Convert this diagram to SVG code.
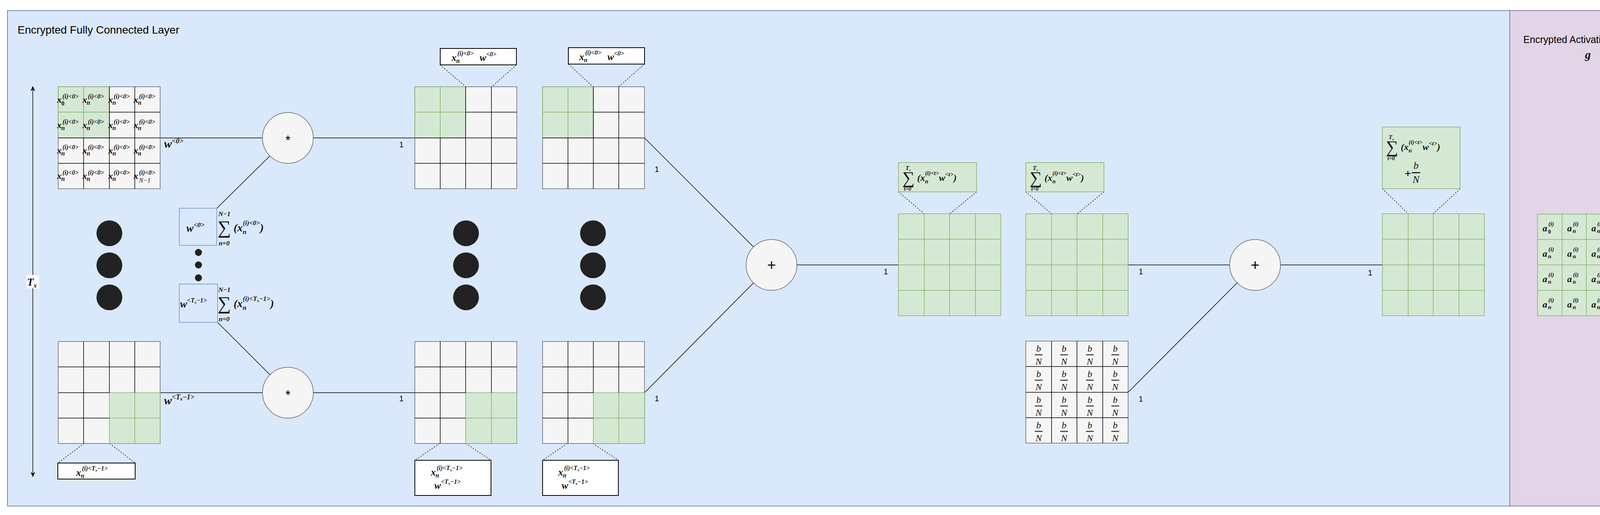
<svg xmlns="http://www.w3.org/2000/svg" width="4303" height="1318" viewBox="0 0 4303 1318">
<style>
.s{font-family:"Liberation Sans",Arial,sans-serif;fill:#000}
.m{font-family:"Liberation Serif","Times New Roman",serif;font-style:italic;fill:#111}
.b{font-weight:bold}
.g{fill:#f5f5f5;stroke:#666;stroke-width:1.5}
.gr{fill:#d5e8d4;stroke:#82b366;stroke-width:1.5}
.ln{stroke:#000;stroke-width:1.5;fill:none}
.dt{stroke:#000;stroke-width:1.5;stroke-dasharray:3 4;fill:none}
.cb{fill:#fff;stroke:#000;stroke-width:2}
.op{fill:#f5f5f5;stroke:#666;stroke-width:1.5}
.dot{fill:#222}
</style>
<defs>
<marker id="ah" markerWidth="10" markerHeight="10" refX="5" refY="5" orient="auto"><path d="M0,1 L9,5 L0,9 L3,5 Z" fill="#000"/></marker>
</defs>
<g id="panel-fc"><rect x="19" y="27" width="3846" height="1268" fill="#dae8fc" stroke="#6c8ebf" stroke-width="2"/>
<text class="s" x="45" y="86" font-size="28">Encrypted Fully Connected Layer</text></g>
<g id="panel-act"><rect x="3865" y="27" width="400" height="1268" fill="#e1d5e7" stroke="#9673a6" stroke-width="2"/>
<text class="s" x="4065" y="110" font-size="25" text-anchor="middle">Encrypted Activation-Function</text>
<text class="m b" x="4065" y="150" font-size="30" text-anchor="middle">g</text></g>

<g id="connectors">
<line class="ln" x1="84" y1="722" x2="84" y2="226" marker-end="url(#ah)"/>
<line class="ln" x1="84" y1="722" x2="84" y2="1215" marker-end="url(#ah)"/>
<line class="ln" x1="410" y1="353" x2="672" y2="353"/>
<line class="ln" x1="802" y1="353" x2="1062" y2="353"/>
<line class="ln" x1="410" y1="1005" x2="672" y2="1005"/>
<line class="ln" x1="802" y1="1005" x2="1062" y2="1005"/>
<line class="ln" x1="555" y1="533" x2="691" y2="399"/>
<line class="ln" x1="557" y1="825" x2="691" y2="959"/>
<line class="ln" x1="1650" y1="353" x2="1929" y2="632"/>
<line class="ln" x1="1650" y1="1005" x2="1929" y2="724"/>
<line class="ln" x1="2040" y1="678" x2="2300" y2="678"/>
<line class="ln" x1="2888" y1="678" x2="3148" y2="678"/>
<line class="ln" x1="3278" y1="678" x2="3539" y2="678"/>
<line class="ln" x1="2888" y1="1004" x2="3167" y2="724"/>
<line class="dt" x1="215" y1="1135" x2="148" y2="1185"/><line class="dt" x1="281" y1="1135" x2="346" y2="1185"/>
<line class="dt" x1="1127" y1="166" x2="1192" y2="222"/><line class="dt" x1="1322" y1="166" x2="1259" y2="222"/>
<line class="dt" x1="1455" y1="164" x2="1518" y2="222"/><line class="dt" x1="1650" y1="164" x2="1584" y2="222"/>
<line class="dt" x1="1125" y1="1135" x2="1062" y2="1178"/><line class="dt" x1="1193" y1="1135" x2="1257" y2="1178"/>
<line class="dt" x1="1452" y1="1135" x2="1389" y2="1178"/><line class="dt" x1="1518" y1="1135" x2="1583" y2="1178"/>
<line class="dt" x1="2300" y1="491" x2="2366" y2="547"/><line class="dt" x1="2500" y1="491" x2="2432" y2="547"/>
<line class="dt" x1="2626" y1="491" x2="2692" y2="547"/><line class="dt" x1="2826" y1="491" x2="2758" y2="547"/>
<line class="dt" x1="3539" y1="483" x2="3605" y2="547"/><line class="dt" x1="3738" y1="483" x2="3669" y2="547"/>
<g class="s" font-size="20">
<text x="1022" y="377">1</text><text x="1676" y="440">1</text>
<text x="1022" y="1027">1</text><text x="1676" y="1027">1</text>
<text x="2262" y="702">1</text><text x="2915" y="702">1</text><text x="3502" y="705">1</text><text x="2915" y="1028">1</text>
</g>
<g class="m b" font-size="30">
<text x="420" y="378">w<tspan font-size="18" dy="-11">&lt;0&gt;</tspan></text>
<text x="420" y="1035">w<tspan font-size="18" dy="-13">&lt;T</tspan><tspan font-size="12" dy="3">x</tspan><tspan font-size="18" dy="-3">−1&gt;</tspan></text>
</g>
<rect x="68" y="704" width="32" height="34" fill="#fff"/>
<text class="m b" x="69" y="731" font-size="28">T<tspan font-size="16" dy="5">x</tspan></text>
</g>

<g id="op-mul1"><circle class="op" cx="737" cy="353" r="65"/><text class="s" x="737" y="370" font-size="34" text-anchor="middle">*</text></g>
<g id="op-mul2"><circle class="op" cx="737" cy="1005" r="65"/><text class="s" x="737" y="1022" font-size="34" text-anchor="middle">*</text></g>
<g id="op-add1"><circle class="op" cx="1975" cy="678" r="65"/><text class="s" x="1975" y="691" font-size="38" text-anchor="middle">+</text></g>
<g id="op-add2"><circle class="op" cx="3213" cy="678" r="65"/><text class="s" x="3213" y="691" font-size="38" text-anchor="middle">+</text></g>

<g id="dots">
<ellipse class="dot" cx="280" cy="597" rx="33" ry="33"/><ellipse class="dot" cx="280" cy="679" rx="33" ry="33"/><ellipse class="dot" cx="280" cy="761" rx="33" ry="33"/>
<ellipse class="dot" cx="1193" cy="597" rx="33" ry="33"/><ellipse class="dot" cx="1193" cy="679" rx="33" ry="33"/><ellipse class="dot" cx="1193" cy="761" rx="33" ry="33"/>
<ellipse class="dot" cx="1518" cy="597" rx="33" ry="33"/><ellipse class="dot" cx="1518" cy="679" rx="33" ry="33"/><ellipse class="dot" cx="1518" cy="761" rx="33" ry="33"/>
<circle class="dot" cx="508" cy="646" r="9"/><circle class="dot" cx="508" cy="678" r="9"/><circle class="dot" cx="508" cy="711" r="9"/>
</g>

<g id="w0-box"><rect x="459" y="533" width="96" height="95" fill="#dae8fc" stroke="#6c8ebf" stroke-width="1.5"/>
<text class="m b" x="477" y="593" font-size="28">w<tspan font-size="17" dy="-12">&lt;0&gt;</tspan></text>
<text class="m b" x="559" y="553" font-size="17">N−1</text><text class="m" x="557" y="598" font-size="48" font-style="normal">∑</text><text class="m b" x="560" y="628" font-size="17">n=0</text>
<text class="m b" x="598" y="592" font-size="28">(x<tspan font-size="17" dy="7">n</tspan><tspan font-size="17" dx="-9" dy="-23">(i)&lt;0&gt;</tspan><tspan dy="16">)</tspan></text>
</g>
<g id="wT-box"><rect x="459" y="727" width="98" height="98" fill="#dae8fc" stroke="#6c8ebf" stroke-width="1.5"/>
<text class="m b" x="461" y="787" font-size="27">w<tspan font-size="16" dy="-13">&lt;T</tspan><tspan font-size="10" dy="3">x</tspan><tspan font-size="16" dy="-3">−1&gt;</tspan></text>
<text class="m b" x="559" y="747" font-size="17">N−1</text><text class="m" x="557" y="792" font-size="48" font-style="normal">∑</text><text class="m b" x="560" y="822" font-size="17">n=0</text>
<text class="m b" x="598" y="786" font-size="28">(x<tspan font-size="17" dy="7">n</tspan><tspan font-size="17" dx="-9" dy="-23">(i)&lt;T</tspan><tspan font-size="11" dy="3">x</tspan><tspan font-size="17" dy="-3">−1&gt;</tspan><tspan dy="16">)</tspan></text>
</g>

<g id="x0-grid">
<rect class="g" x="149" y="222" width="261" height="261"/>
<rect class="gr" x="149" y="222" width="65" height="65"/><rect class="gr" x="214" y="222" width="66" height="65"/>
<rect class="gr" x="149" y="287" width="65" height="66"/><rect class="gr" x="214" y="287" width="66" height="66"/>
<path class="ln" stroke="#666" d="M280,222V483M345,222V483M149,353H410M149,418H410M214,353V483M280,287H410"/>
<g class="m b" font-size="24" fill="#222">
<text x="146" y="263">x<tspan font-size="16" x="157" y="270" font-style="normal">0</tspan><tspan font-size="16" x="160" y="252">(i)&lt;0&gt;</tspan></text>
<text x="211" y="263">x<tspan font-size="16" x="222" y="268">n</tspan><tspan font-size="16" x="225" y="252">(i)&lt;0&gt;</tspan></text>
<text x="277" y="263">x<tspan font-size="16" x="288" y="268">n</tspan><tspan font-size="16" x="291" y="252">(i)&lt;0&gt;</tspan></text>
<text x="342" y="263">x<tspan font-size="16" x="353" y="268">n</tspan><tspan font-size="16" x="356" y="252">(i)&lt;0&gt;</tspan></text>
<text x="146" y="328">x<tspan font-size="16" x="157" y="333">n</tspan><tspan font-size="16" x="160" y="317">(i)&lt;0&gt;</tspan></text>
<text x="211" y="328">x<tspan font-size="16" x="222" y="333">n</tspan><tspan font-size="16" x="225" y="317">(i)&lt;0&gt;</tspan></text>
<text x="277" y="328">x<tspan font-size="16" x="288" y="333">n</tspan><tspan font-size="16" x="291" y="317">(i)&lt;0&gt;</tspan></text>
<text x="342" y="328">x<tspan font-size="16" x="353" y="333">n</tspan><tspan font-size="16" x="356" y="317">(i)&lt;0&gt;</tspan></text>
<text x="146" y="393">x<tspan font-size="16" x="157" y="398">n</tspan><tspan font-size="16" x="160" y="382">(i)&lt;0&gt;</tspan></text>
<text x="211" y="393">x<tspan font-size="16" x="222" y="398">n</tspan><tspan font-size="16" x="225" y="382">(i)&lt;0&gt;</tspan></text>
<text x="277" y="393">x<tspan font-size="16" x="288" y="398">n</tspan><tspan font-size="16" x="291" y="382">(i)&lt;0&gt;</tspan></text>
<text x="342" y="393">x<tspan font-size="16" x="353" y="398">n</tspan><tspan font-size="16" x="356" y="382">(i)&lt;0&gt;</tspan></text>
<text x="146" y="458">x<tspan font-size="16" x="157" y="463">n</tspan><tspan font-size="16" x="160" y="447">(i)&lt;0&gt;</tspan></text>
<text x="211" y="458">x<tspan font-size="16" x="222" y="463">n</tspan><tspan font-size="16" x="225" y="447">(i)&lt;0&gt;</tspan></text>
<text x="277" y="458">x<tspan font-size="16" x="288" y="463">n</tspan><tspan font-size="16" x="291" y="447">(i)&lt;0&gt;</tspan></text>
<text x="342" y="458">x<tspan font-size="16" x="356" y="467" font-weight="normal">N−1</tspan><tspan font-size="16" x="356" y="447">(i)&lt;0&gt;</tspan></text>
</g></g>

<g id="xT-grid">
<rect class="g" x="149" y="874" width="261" height="261"/>
<rect class="gr" x="280" y="1005" width="130" height="130"/>
<path class="ln" stroke="#666" d="M214,874V1135M280,874V1005M345,874V1005M149,939H410M149,1005H280M149,1070H280"/>
<path fill="none" stroke="#82b366" stroke-width="1.5" d="M345,1005V1135M280,1070H410"/>
</g>
<g id="xT-callout"><rect class="cb" x="148" y="1185" width="198" height="41"/>
<text class="m b" x="195" y="1218" font-size="25">x<tspan font-size="16" x="207" y="1223">n</tspan><tspan font-size="16" x="210" y="1204">(i)&lt;T</tspan><tspan font-size="10" dy="3">x</tspan><tspan font-size="16" dy="-3">−1&gt;</tspan></text></g>

<g id="prodA-grid">
<rect class="g" x="1062" y="222" width="261" height="261"/>
<rect class="gr" x="1062" y="222" width="130" height="131"/>
<path fill="none" stroke="#82b366" stroke-width="1.5" d="M1127,222V353M1062,287H1192"/>
<path class="ln" stroke="#666" d="M1127,353V483M1192,222V483M1258,222V483M1192,287H1323M1062,353H1323M1062,418H1323"/>
</g>
<g id="prodA-callout"><rect class="cb" x="1127" y="124" width="195" height="42"/>
<text class="m b" x="1156" y="156" font-size="25">x<tspan font-size="16" x="1168" y="161">n</tspan><tspan font-size="16" x="1171" y="142">(i)&lt;0&gt;</tspan><tspan x="1228" y="156">w</tspan><tspan font-size="16" dy="-12">&lt;0&gt;</tspan></text></g>
<g id="prodB-grid">
<rect class="g" x="1389" y="222" width="261" height="261"/>
<rect class="gr" x="1389" y="222" width="130" height="131"/>
<path fill="none" stroke="#82b366" stroke-width="1.5" d="M1454,222V353M1389,287H1519"/>
<path class="ln" stroke="#666" d="M1454,353V483M1519,222V483M1584,222V483M1519,287H1650M1389,353H1650M1389,418H1650"/>
</g>
<g id="prodB-callout"><rect class="cb" x="1455" y="122" width="195" height="42"/>
<text class="m b" x="1483" y="154" font-size="25">x<tspan font-size="16" x="1495" y="159">n</tspan><tspan font-size="16" x="1498" y="140">(i)&lt;0&gt;</tspan><tspan x="1555" y="154">w</tspan><tspan font-size="16" dy="-12">&lt;0&gt;</tspan></text></g>

<g id="prodC-grid">
<rect class="g" x="1062" y="874" width="261" height="261"/>
<rect class="gr" x="1192" y="1005" width="131" height="130"/>
<path class="ln" stroke="#666" d="M1127,874V1135M1192,874V1005M1258,874V1005M1062,939H1323M1062,1005H1192M1062,1070H1192"/>
<path fill="none" stroke="#82b366" stroke-width="1.5" d="M1258,1005V1135M1192,1070H1323"/>
</g>
<g id="prodC-callout"><rect class="cb" x="1062" y="1178" width="195" height="90"/>
<text class="m b" x="1103" y="1217" font-size="25">x<tspan font-size="16" x="1115" y="1222">n</tspan><tspan font-size="16" x="1118" y="1203">(i)&lt;T</tspan><tspan font-size="10" dy="3">x</tspan><tspan font-size="16" dy="-3">−1&gt;</tspan></text>
<text class="m b" x="1112" y="1251" font-size="25">w<tspan font-size="16" dy="-13">&lt;T</tspan><tspan font-size="10" dy="3">x</tspan><tspan font-size="16" dy="-3">−1&gt;</tspan></text></g>
<g id="prodD-grid">
<rect class="g" x="1389" y="874" width="261" height="261"/>
<rect class="gr" x="1519" y="1005" width="131" height="130"/>
<path class="ln" stroke="#666" d="M1454,874V1135M1519,874V1005M1584,874V1005M1389,939H1650M1389,1005H1519M1389,1070H1519"/>
<path fill="none" stroke="#82b366" stroke-width="1.5" d="M1584,1005V1135M1519,1070H1650"/>
</g>
<g id="prodD-callout"><rect class="cb" x="1389" y="1178" width="194" height="90"/>
<text class="m b" x="1429" y="1217" font-size="25">x<tspan font-size="16" x="1441" y="1222">n</tspan><tspan font-size="16" x="1444" y="1203">(i)&lt;T</tspan><tspan font-size="10" dy="3">x</tspan><tspan font-size="16" dy="-3">−1&gt;</tspan></text>
<text class="m b" x="1438" y="1251" font-size="25">w<tspan font-size="16" dy="-13">&lt;T</tspan><tspan font-size="10" dy="3">x</tspan><tspan font-size="16" dy="-3">−1&gt;</tspan></text></g>

<g id="sumE-grid">
<rect class="gr" x="2300" y="547" width="262" height="261"/>
<path fill="none" stroke="#82b366" stroke-width="1.5" d="M2366,547V808M2431,547V808M2497,547V808M2300,612H2562M2300,678H2562M2300,743H2562"/>
</g>
<g id="sumE-callout"><rect class="gr" x="2300" y="416" width="200" height="75"/>
<text class="m b" x="2318" y="435" font-size="15">T<tspan font-size="9" dy="3">x</tspan></text>
<text class="m" x="2310" y="470" font-size="44" font-style="normal">∑</text>
<text class="m b" x="2314" y="488" font-size="14">t=0</text>
<text class="m b" x="2348" y="463" font-size="24">(x<tspan font-size="15" dy="6">n</tspan><tspan font-size="15" dx="-8" dy="-21">(i)&lt;t&gt;</tspan><tspan dy="15">w</tspan><tspan font-size="15" dy="-12">&lt;t&gt;</tspan><tspan dy="12">)</tspan></text></g>
<g id="sumF-grid">
<rect class="gr" x="2626" y="547" width="262" height="261"/>
<path fill="none" stroke="#82b366" stroke-width="1.5" d="M2692,547V808M2757,547V808M2823,547V808M2626,612H2888M2626,678H2888M2626,743H2888"/>
</g>
<g id="sumF-callout"><rect class="gr" x="2626" y="416" width="200" height="75"/>
<text class="m b" x="2644" y="435" font-size="15">T<tspan font-size="9" dy="3">x</tspan></text>
<text class="m" x="2636" y="470" font-size="44" font-style="normal">∑</text>
<text class="m b" x="2640" y="488" font-size="14">t=0</text>
<text class="m b" x="2674" y="463" font-size="24">(x<tspan font-size="15" dy="6">n</tspan><tspan font-size="15" dx="-8" dy="-21">(i)&lt;t&gt;</tspan><tspan dy="15">w</tspan><tspan font-size="15" dy="-12">&lt;t&gt;</tspan><tspan dy="12">)</tspan></text></g>

<g id="bias-grid">
<rect class="g" x="2626" y="873" width="262" height="261"/>
<path class="ln" stroke="#666" d="M2692,873V1134M2757,873V1134M2823,873V1134M2626,938H2888M2626,1004H2888M2626,1069H2888"/>
<g class="m" font-size="24" text-anchor="middle" fill="#333">
<text x="2659" y="900">b</text><text x="2659" y="933">N</text><text x="2724" y="900">b</text><text x="2724" y="933">N</text><text x="2790" y="900">b</text><text x="2790" y="933">N</text><text x="2855" y="900">b</text><text x="2855" y="933">N</text>
<text x="2659" y="965">b</text><text x="2659" y="998">N</text><text x="2724" y="965">b</text><text x="2724" y="998">N</text><text x="2790" y="965">b</text><text x="2790" y="998">N</text><text x="2855" y="965">b</text><text x="2855" y="998">N</text>
<text x="2659" y="1031">b</text><text x="2659" y="1064">N</text><text x="2724" y="1031">b</text><text x="2724" y="1064">N</text><text x="2790" y="1031">b</text><text x="2790" y="1064">N</text><text x="2855" y="1031">b</text><text x="2855" y="1064">N</text>
<text x="2659" y="1096">b</text><text x="2659" y="1129">N</text><text x="2724" y="1096">b</text><text x="2724" y="1129">N</text><text x="2790" y="1096">b</text><text x="2790" y="1129">N</text><text x="2855" y="1096">b</text><text x="2855" y="1129">N</text>
</g>
<path stroke="#333" stroke-width="2.5" d="M2649,908H2669M2714,908H2734M2780,908H2800M2845,908H2865M2649,973H2669M2714,973H2734M2780,973H2800M2845,973H2865M2649,1039H2669M2714,1039H2734M2780,1039H2800M2845,1039H2865M2649,1104H2669M2714,1104H2734M2780,1104H2800M2845,1104H2865"/>
</g>

<g id="sumG-grid">
<rect class="gr" x="3539" y="547" width="261" height="261"/>
<path fill="none" stroke="#82b366" stroke-width="1.5" d="M3605,547V808M3669,547V808M3735,547V808M3539,612H3800M3539,678H3800M3539,743H3800"/>
</g>
<g id="sumG-callout"><rect class="gr" x="3539" y="325" width="199" height="158"/>
<text class="m b" x="3555" y="356" font-size="15">T<tspan font-size="9" dy="3">x</tspan></text>
<text class="m" x="3548" y="391" font-size="44" font-style="normal">∑</text>
<text class="m b" x="3552" y="410" font-size="14">t=0</text>
<text class="m b" x="3586" y="384" font-size="24">(x<tspan font-size="15" dy="6">n</tspan><tspan font-size="15" dx="-8" dy="-21">(i)&lt;t&gt;</tspan><tspan dy="15">w</tspan><tspan font-size="15" dy="-12">&lt;t&gt;</tspan><tspan dy="12">)</tspan></text>
<text class="s" x="3596" y="453" font-size="28">+</text>
<text class="m" x="3625" y="432" font-size="26" text-anchor="middle">b</text>
<path stroke="#000" stroke-width="2.5" d="M3614,442H3636"/>
<text class="m" x="3625" y="468" font-size="26" text-anchor="middle">N</text></g>

<g id="act-grid">
<rect class="gr" x="3936" y="548" width="251" height="260"/>
<path fill="none" stroke="#82b366" stroke-width="1.5" d="M3999,548V808M4061,548V808M4124,548V808M3936,613H4187M3936,678H4187M3936,743H4187"/>
<g class="m b" font-size="24">
<text x="3949" y="592">a<tspan font-size="15" x="3963" y="598" font-style="normal">0</tspan><tspan font-size="15" x="3964" y="578">(i)</tspan></text>
<text x="4012" y="592">a<tspan font-size="15" x="4026" y="596">n</tspan><tspan font-size="15" x="4027" y="578">(i)</tspan></text>
<text x="4074" y="592">a<tspan font-size="15" x="4088" y="596">n</tspan><tspan font-size="15" x="4089" y="578">(i)</tspan></text>
<text x="4137" y="592">a<tspan font-size="15" x="4151" y="596">n</tspan><tspan font-size="15" x="4152" y="578">(i)</tspan></text>
<text x="3949" y="657">a<tspan font-size="15" x="3963" y="661">n</tspan><tspan font-size="15" x="3964" y="643">(i)</tspan></text>
<text x="4012" y="657">a<tspan font-size="15" x="4026" y="661">n</tspan><tspan font-size="15" x="4027" y="643">(i)</tspan></text>
<text x="4074" y="657">a<tspan font-size="15" x="4088" y="661">n</tspan><tspan font-size="15" x="4089" y="643">(i)</tspan></text>
<text x="4137" y="657">a<tspan font-size="15" x="4151" y="661">n</tspan><tspan font-size="15" x="4152" y="643">(i)</tspan></text>
<text x="3949" y="722">a<tspan font-size="15" x="3963" y="726">n</tspan><tspan font-size="15" x="3964" y="708">(i)</tspan></text>
<text x="4012" y="722">a<tspan font-size="15" x="4026" y="726">n</tspan><tspan font-size="15" x="4027" y="708">(i)</tspan></text>
<text x="4074" y="722">a<tspan font-size="15" x="4088" y="726">n</tspan><tspan font-size="15" x="4089" y="708">(i)</tspan></text>
<text x="4137" y="722">a<tspan font-size="15" x="4151" y="726">n</tspan><tspan font-size="15" x="4152" y="708">(i)</tspan></text>
<text x="3949" y="787">a<tspan font-size="15" x="3963" y="791">n</tspan><tspan font-size="15" x="3964" y="773">(i)</tspan></text>
<text x="4012" y="787">a<tspan font-size="15" x="4026" y="791">n</tspan><tspan font-size="15" x="4027" y="773">(i)</tspan></text>
<text x="4074" y="787">a<tspan font-size="15" x="4088" y="791">n</tspan><tspan font-size="15" x="4089" y="773">(i)</tspan></text>
<text x="4128" y="787">a<tspan font-size="14" x="4142" y="793">N−1</tspan><tspan font-size="15" x="4144" y="773">(i)</tspan></text>
</g></g>
</svg>
